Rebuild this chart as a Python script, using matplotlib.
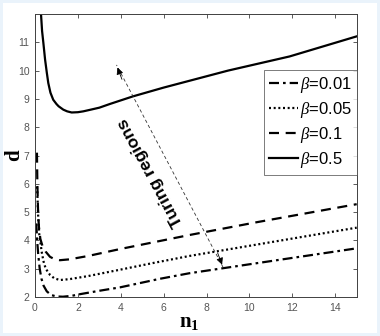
import matplotlib
matplotlib.use("Agg")
import matplotlib.pyplot as plt
from matplotlib.patches import Rectangle

plt.rcParams["font.family"] = ["Liberation Sans", "DejaVu Sans"]
plt.rcParams["mathtext.fontset"] = "custom"
plt.rcParams["mathtext.rm"] = "Liberation Serif"
plt.rcParams["mathtext.it"] = "Liberation Serif:italic"
plt.rcParams["mathtext.bf"] = "Liberation Serif:bold"

# values
n_b001 = [0.06, 0.10, 0.15, 0.22, 0.30, 0.40, 0.55, 0.75, 1.0, 1.3, 1.7, 2.1, 3.0, 3.96, 5.8, 7.2, 10.3, 15.0]
d_b001 = [4.6, 4.0, 3.5, 3.0, 2.65, 2.4, 2.2, 2.07, 2.02, 2.01, 2.04, 2.1, 2.22, 2.34, 2.64, 2.84, 3.19, 3.72]

n_b005 = [0.09, 0.11, 0.15, 0.20, 0.25, 0.31, 0.40, 0.50, 0.70, 0.90, 1.16, 1.6, 2.48, 4.0, 5.5, 7.2, 10.32, 15.0]
d_b005 = [5.9, 5.68, 4.8, 4.2, 3.95, 3.6, 3.25, 3.0, 2.78, 2.66, 2.6, 2.63, 2.74, 2.97, 3.2, 3.45, 3.85, 4.45]

n_b01 = [0.09, 0.11, 0.14, 0.18, 0.25, 0.35, 0.50, 0.70, 0.90, 1.16, 1.6, 2.48, 4.0, 5.5, 7.2, 10.32, 15.0]
d_b01 = [7.1, 6.0, 5.1, 4.5, 4.05, 3.8, 3.6, 3.42, 3.34, 3.3, 3.33, 3.45, 3.7, 3.93, 4.19, 4.64, 5.28]

n_b05 = [0.25, 0.28, 0.33, 0.39, 0.47, 0.55, 0.62, 0.72, 0.85, 1.0, 1.1, 1.32, 1.5, 1.71, 2.0, 2.25, 2.6, 3.0, 3.49, 4.57, 6.0, 7.2, 9.0, 11.87, 15.0]
d_b05 = [12.6, 12.0, 11.4, 10.98, 10.39, 9.93, 9.56, 9.22, 8.97, 8.82, 8.74, 8.62, 8.56, 8.52, 8.53, 8.56, 8.62, 8.69, 8.82, 9.09, 9.40, 9.64, 10.0, 10.5, 11.21]

labels = [r"$\it{\beta}$=0.01", r"$\it{\beta}$=0.05", r"$\it{\beta}$=0.1", r"$\it{\beta}$=0.5"]
xticks = list(range(0, 15, 2))
yticks = list(range(2, 12))

arrow_lo = (8.77, 3.05)
arrow_hi = (3.8, 10.2)
note_xy = (5.4, 6.42)

fig = plt.figure(figsize=(3.8, 3.36), dpi=100)
fig.patch.set_facecolor("#eaf3fb")
fig.patches.append(Rectangle((3 / 380, 3 / 336), 374 / 380, 330 / 336, transform=fig.transFigure,
                             facecolor="white", edgecolor="none", zorder=-1))
ax = fig.add_axes([35 / 380, 39 / 336, 321.7 / 380, 283 / 336])

ax.plot(n_b001, d_b001, color="k", lw=1.6, linestyle=(0, (4.5, 1.8, 1.2, 1.8)), label=labels[0])
ax.plot(n_b005, d_b005, color="k", lw=1.6, linestyle=(0, (0.9, 1.2)), label=labels[1])
ax.plot(n_b01, d_b01, color="k", lw=1.6, linestyle=(0, (4.5, 3.0)), label=labels[2])
ax.plot(n_b05, d_b05, color="k", lw=1.6, linestyle="-", label=labels[3])

# double headed dashed arrow
ax.plot([arrow_lo[0], arrow_hi[0]], [arrow_lo[1], arrow_hi[1]], color="#333333", lw=0.6, linestyle=(0, (4, 3)))
ax.annotate("", xy=arrow_hi, xytext=(arrow_hi[0] + 0.3, arrow_hi[1] - 0.6),
            arrowprops=dict(arrowstyle="-|>", color="k", lw=0.6, mutation_scale=10))
ax.annotate("", xy=arrow_lo, xytext=(arrow_lo[0] - 0.3, arrow_lo[1] + 0.6),
            arrowprops=dict(arrowstyle="-|>", color="k", lw=0.6, mutation_scale=10))
ax.text(note_xy[0], note_xy[1], "Turing regions", rotation=118.4, rotation_mode="anchor",
        ha="center", va="center", fontsize=12.5, fontweight="bold")

ax.set_xlim(0, 15)
ax.set_ylim(2, 12)
ax.set_xticks(xticks)
ax.set_yticks(yticks)
ax.tick_params(direction="in", length=3, width=0.6, top=True, right=True,
               labelsize=7.5, labelcolor="#555555", color="#404040", pad=4)
for s in ax.spines.values():
    s.set_color("#404040")
    s.set_linewidth(0.7)

ax.set_xlabel(r"$\mathbf{n_1}$", fontsize=15)
ax.set_ylabel(r"$\mathbf{d}$", fontsize=15)
ax.xaxis.set_label_coords(0.48, -0.055)
ax.yaxis.set_label_coords(-0.035, 0.5)

leg = ax.legend(loc="upper right", bbox_to_anchor=(1.0, 0.802), fontsize=12, frameon=True,
                fancybox=False, edgecolor="#404040", handlelength=1.75, handletextpad=0.12,
                borderpad=0.3, labelspacing=0.3, borderaxespad=0)
leg.get_frame().set_linewidth(0.6)

fig.savefig("out.png", dpi=100, facecolor=fig.get_facecolor())
